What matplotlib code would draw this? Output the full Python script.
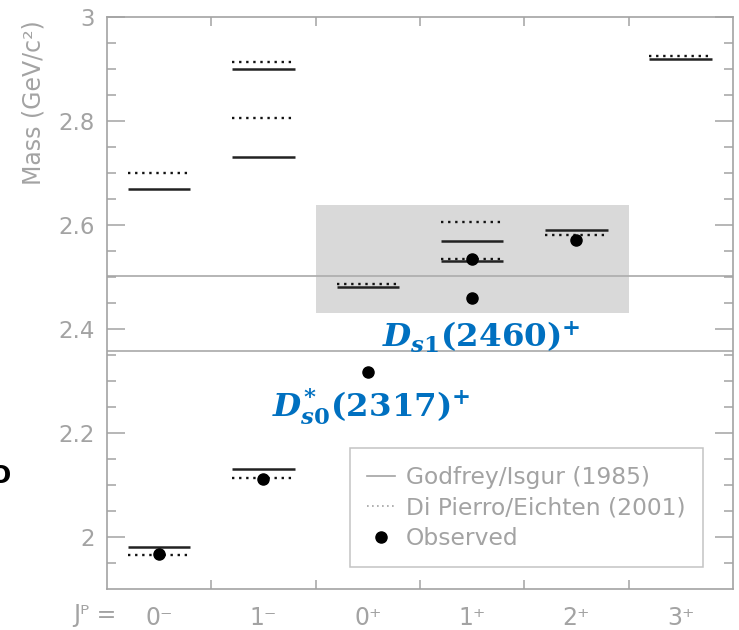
import numpy as np
import matplotlib
matplotlib.use('Agg')
import matplotlib.pyplot as plt
from matplotlib.lines import Line2D
from matplotlib.patches import Rectangle

plt.rcParams['font.family'] = ['DejaVu Sans']
plt.rcParams['mathtext.fontset'] = 'custom'
plt.rcParams['mathtext.it'] = 'DejaVu Serif:italic:bold'
plt.rcParams['mathtext.rm'] = 'DejaVu Serif:bold'
plt.rcParams['mathtext.bf'] = 'DejaVu Serif:bold'

# J^P categories
cats = ['0⁻', '1⁻', '0⁺', '1⁺', '2⁺', '3⁺']

# Godfrey/Isgur (1985) predictions: category index, mass
gi_cat = [0, 0, 1, 1, 1, 2, 3, 3, 4, 5]
gi_mass = [1.98, 2.67, 2.13, 2.73, 2.90, 2.48, 2.53, 2.57, 2.59, 2.92]

# Di Pierro/Eichten (2001) predictions
de_cat = [0, 0, 1, 1, 1, 2, 3, 3, 4, 5]
de_mass = [1.965, 2.70, 2.113, 2.806, 2.913, 2.487, 2.535, 2.605, 2.58, 2.925]

# observed states
obs_cat = [0, 1, 2, 3, 3, 4]
obs_mass = [1.968, 2.112, 2.317, 2.460, 2.535, 2.572]

# DK and D*K thresholds
thresholds = [2.358, 2.501]

grey = '#a3a3a3'
blue = '#0070C0'

fig = plt.figure(figsize=(7.39, 6.30), dpi=100)
ax = fig.add_axes([0.1448, 0.0651, 0.847, 0.908])
ax.set_xlim(0, 6)
ax.set_ylim(1.9, 3.0)

ax.add_patch(Rectangle((2, 2.431), 3, 2.638 - 2.431, facecolor='#d9d9d9',
                       edgecolor='none', zorder=0))
for t in thresholds:
    ax.axhline(t, color='#b0b0b0', lw=1.3, zorder=1)

gi_c = np.array(gi_cat) + 0.5
de_c = np.array(de_cat) + 0.5
ax.hlines(de_mass, de_c - 0.3, de_c + 0.3, colors='#111111', lw=1.7,
          linestyles=[(0, (1, 2))], zorder=2)
ax.hlines(gi_mass, gi_c - 0.3, gi_c + 0.3, colors='#222222', lw=1.8, zorder=3)
ax.plot(np.array(obs_cat) + 0.5, obs_mass, 'o', color='black', ms=8, zorder=4)

# blue state labels
ax.text(2.64, 2.365, r'$D_{s1}(2460)^{+}$', color=blue, fontsize=23.4,
        va='baseline', ha='left')
ax.text(1.58, 2.232, r'$D^{*}_{s0}(2317)^{+}$', color=blue, fontsize=23.4,
        va='baseline', ha='left')

# axes styling
for s in ax.spines.values():
    s.set_color(grey)
    s.set_linewidth(1.2)
ax.set_xticks([1, 2, 3, 4, 5])
ax.set_xticklabels([])
ax.set_xticks(np.arange(6) + 0.5, minor=True)
ax.set_xticklabels(cats, minor=True)
ax.tick_params(axis='x', which='major', direction='in', top=True, bottom=True,
               length=6.5, color=grey, width=1.1)
ax.tick_params(axis='x', which='minor', length=0, pad=12, labelsize=17,
               labelcolor=grey)
yt = [2.0, 2.2, 2.4, 2.6, 2.8, 3.0]
ax.set_yticks(yt)
ax.set_yticklabels([f'{v:g}' for v in yt])
ax.set_yticks(np.arange(1.95, 3.0, 0.05), minor=True)
ax.tick_params(axis='y', which='major', direction='in', left=True, right=True,
               length=13, color=grey, width=1.1, pad=9, labelsize=16.5,
               labelcolor=grey)
ax.tick_params(axis='y', which='minor', direction='in', left=True, right=True,
               length=6.5, color=grey, width=1.1)

ax.text(-0.118, 0.995, 'Mass (GeV/c²)', rotation=90, ha='center', va='top',
        transform=ax.transAxes, fontsize=17, color=grey)
ax.text(0.016, -0.046, 'Jᴾ =', ha='right', va='center', transform=ax.transAxes,
        fontsize=17, color=grey)

handles = [Line2D([], [], color=grey, lw=1.2),
           Line2D([], [], color=grey, lw=1.2, ls=(0, (1, 2))),
           Line2D([], [], color='black', marker='o', ls='none', ms=8)]
labels = ['Godfrey/Isgur (1985)', 'Di Pierro/Eichten (2001)', 'Observed']
leg = ax.legend(handles, labels, loc='lower right', bbox_to_anchor=(0.952, 0.038),
                borderaxespad=0, fontsize=16.8, frameon=True, fancybox=False,
                edgecolor='#b5b5b5', labelcolor=grey, handlelength=1.2,
                handletextpad=0.45, labelspacing=0.32, borderpad=0.75)
leg.get_frame().set_linewidth(1.1)

# clipped glyph at the left edge
fig.text(11 / 739, (630 - 476) / 630, 'O', fontsize=18, fontweight='bold',
         ha='right', va='center', color='black')

fig.savefig('out.png', dpi=100)
